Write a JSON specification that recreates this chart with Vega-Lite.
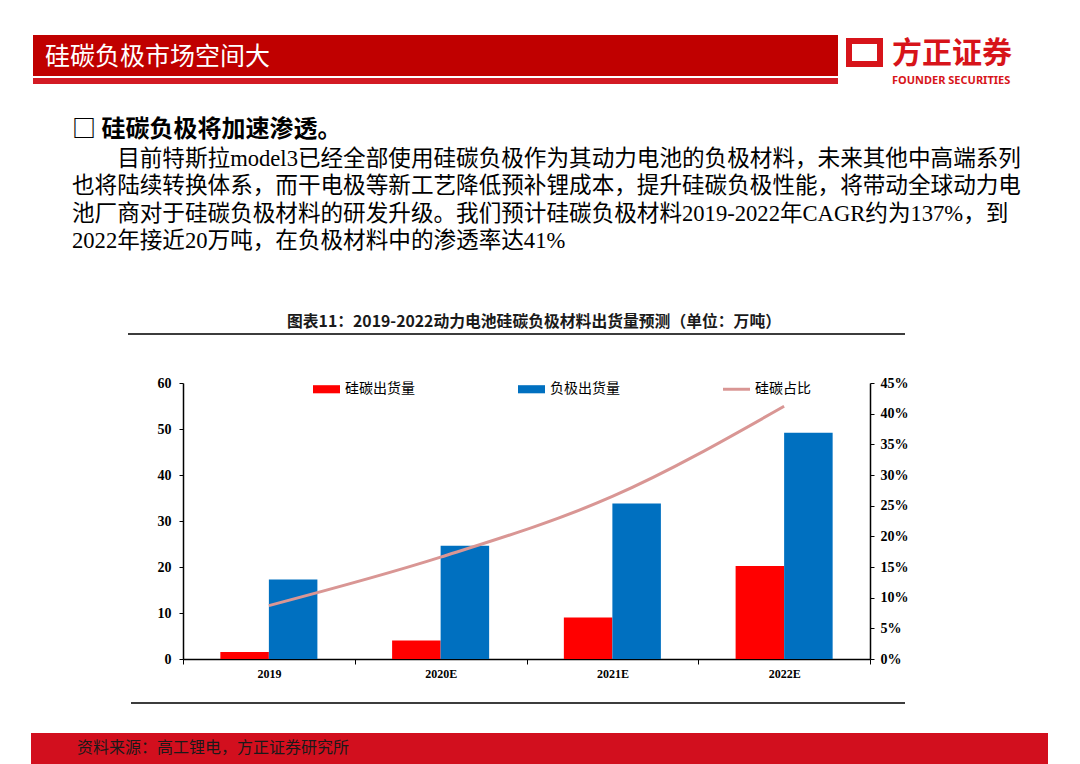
{
  "$schema": "https://vega.github.io/schema/vega-lite/v6.json",
  "padding": {"top": 35, "left": 0, "right": 0, "bottom": 0},
  "background": "#ffffff",
  "columns": 2,
  "bounds": "flush",
  "spacing": 0,
  "config": {"view": {"stroke": null}, "font": "Noto Sans CJK SC"},
  "datasets": {
    "shipments": [
      {"year": "2019", "series": "硅碳出货量", "value": 1.5},
      {"year": "2019", "series": "负极出货量", "value": 17.3},
      {"year": "2020E", "series": "硅碳出货量", "value": 4.0},
      {"year": "2020E", "series": "负极出货量", "value": 24.6},
      {"year": "2021E", "series": "硅碳出货量", "value": 9.0},
      {"year": "2021E", "series": "负极出货量", "value": 33.8},
      {"year": "2022E", "series": "硅碳出货量", "value": 20.2},
      {"year": "2022E", "series": "负极出货量", "value": 49.2}
    ],
    "share": [
      {"year": "2019", "ratio": 0.087},
      {"year": "2020E", "ratio": 0.166},
      {"year": "2021E", "ratio": 0.265},
      {"year": "2022E", "ratio": 0.412}
    ]
  },
  "concat": [
    {"width": 1, "height": 6, "data": {"values": []}, "mark": "point", "view": {"fill": "#ffffff", "stroke": null}},
    {"hconcat": [
      {"width": 32, "height": 6, "data": {"values": []}, "mark": "point"},
      {"width": 805, "height": 6, "data": {"values": []}, "mark": "point", "view": {"fill": "#c00000", "stroke": null}}
    ], "spacing": 0, "bounds": "flush"},

    {"width": 1, "height": 37, "data": {"values": []}, "mark": "point", "view": {"fill": "#ffffff", "stroke": null}},
    {"hconcat": [
      {"width": 32, "height": 35, "data": {"values": []}, "mark": "point"},
      {"width": 805, "height": 35, "data": {"values": []}, "mark": "point", "view": {"fill": "#c00000", "stroke": null},
       "title": {"text": "硅碳负极市场空间大", "anchor": "start", "frame": "group", "dx": 12, "offset": -29, "color": "#ffffff", "font": "Noto Sans CJK SC", "fontSize": 25, "fontWeight": "normal"}},
      {"width": 11, "height": 1, "data": {"values": []}, "mark": "point"},
      {"width": 31, "height": 23, "data": {"values": []}, "mark": "point", "view": {"fill": null, "stroke": "#d7141a", "strokeWidth": 6},
       "title": {"text": "方正证券", "subtitle": "FOUNDER SECURITIES", "anchor": "start", "frame": "group", "dx": 43, "offset": -45, "color": "#d7141a", "font": "Noto Sans CJK SC", "fontSize": 30, "fontWeight": "bold", "subtitleColor": "#d7141a", "subtitleFont": "Noto Sans", "subtitleFontSize": 11, "subtitleFontWeight": "bold", "subtitlePadding": 6}}
    ], "spacing": 0, "bounds": "flush"},

    {"width": 1, "height": 174, "data": {"values": []}, "mark": "point"},
    {"hconcat": [
      {"width": 32, "height": 6, "data": {"values": []}, "mark": "point"},
      {"width": 805, "height": 6, "data": {"values": []}, "mark": "point", "view": {"fill": "#d31a24", "stroke": null}}
    ], "spacing": 0, "bounds": "flush"},

    {"width": 1, "height": 81, "data": {"values": []}, "mark": "point"},
    {"hconcat": [
      {"width": 71, "height": 81, "data": {"values": []}, "mark": "point"},
      {"width": 960, "height": 81, "data": {"values": []}, "mark": "point",
       "title": {
         "text": "□ 硅碳负极将加速渗透。",
         "subtitle": [
           "\u200b\u3000\u3000目前特斯拉model3已经全部使用硅碳负极作为其动力电池的负极材料，未来其他中高端系列",
           "也将陆续转换体系，而干电极等新工艺降低预补锂成本，提升硅碳负极性能，将带动全球动力电",
           "池厂商对于硅碳负极材料的研发升级。我们预计硅碳负极材料2019-2022年CAGR约为137%，到",
           "2022年接近20万吨，在负极材料中的渗透率达41%"
         ],
         "anchor": "start", "frame": "group", "offset": -0.5,
         "color": "#000000", "font": "Noto Sans CJK SC", "fontSize": 24, "fontWeight": "bold",
         "subtitleColor": "#000000", "subtitleFont": "'Liberation Serif', 'Noto Sans CJK SC'", "subtitleFontSize": 22.6,
         "subtitleLineHeight": 27.3, "subtitlePadding": 6
       }}
    ], "spacing": 0, "bounds": "flush"},

    {"width": 1, "height": 50, "data": {"values": []}, "mark": "point"},
    {"hconcat": [
      {"width": 127, "height": 2, "data": {"values": []}, "mark": "point"},
      {"width": 777, "height": 2, "data": {"values": []}, "mark": "point", "view": {"fill": "#3c3c3c", "stroke": null},
       "title": {"text": "图表11：2019-2022动力电池硅碳负极材料出货量预测（单位：万吨）", "anchor": "start", "frame": "group", "dx": 159, "offset": 2, "color": "#1a1a1a", "font": "Noto Sans CJK SC", "fontSize": 15.8, "fontWeight": "bold"}}
    ], "spacing": 0, "bounds": "flush"},

    {"width": 1, "height": 319, "data": {"values": []}, "mark": "point"},
    {"hconcat": [
      {"width": 182, "height": 276, "data": {"values": []}, "mark": "point"},
      {
        "width": 687, "height": 276,
        "layer": [
          {
            "data": {"name": "shipments"},
            "mark": {"type": "bar"},
            "encoding": {
              "x": {"field": "year", "type": "nominal", "sort": null,
                    "scale": {"paddingInner": 0, "paddingOuter": 0},
                    "axis": {"title": null, "tickBand": "extent", "labelAngle": 0, "labelFont": "Liberation Serif", "labelFontWeight": "bold", "labelFontSize": 12, "labelColor": "#000000", "domainColor": "#000000", "domainWidth": 1.5, "tickColor": "#000000", "tickSize": 5, "labelPadding": 4}},
              "xOffset": {"field": "series", "type": "nominal", "sort": null,
                          "scale": {"domain": ["硅碳出货量", "负极出货量"], "paddingInner": 0, "paddingOuter": 0.77}},
              "y": {"field": "value", "type": "quantitative", "scale": {"domain": [0, 60]},
                    "axis": {"title": null, "grid": false, "values": [0, 10, 20, 30, 40, 50, 60], "labelFont": "Liberation Serif", "labelFontWeight": "bold", "labelFontSize": 14, "labelColor": "#000000", "domainColor": "#000000", "domainWidth": 1.5, "tickColor": "#000000", "tickSize": 4, "labelPadding": 8}},
              "color": {"field": "series", "type": "nominal",
                        "scale": {"domain": ["硅碳出货量", "负极出货量", "硅碳占比"], "range": ["#ff0000", "#0070c0", "#d99694"]},
                        "legend": {"orient": "none", "legendX": 313, "legendY": 340.5, "direction": "horizontal", "title": null, "padding": 0,
                                   "labelFont": "Noto Sans CJK SC", "labelFontSize": 14, "labelColor": "#000000", "labelOffset": 5,
                                   "columnPadding": 103, "symbolSize": 729, "symbolStrokeWidth": 0,
                                   "encode": {"symbols": {"update": {
                                     "shape": {"signal": "datum.value === '硅碳占比' ? 'M-1,-0.11H1V0.11H-1Z' : 'M-1,-0.3H1V0.3H-1Z'"},
                                     "fill": {"scale": "color", "field": "value"},
                                     "opacity": {"value": 1}}}}}}
            }
          },
          {
            "data": {"name": "share"},
            "mark": {"type": "line", "interpolate": "monotone", "strokeWidth": 3},
            "encoding": {
              "x": {"field": "year", "type": "nominal", "sort": null},
              "y": {"field": "ratio", "type": "quantitative", "scale": {"domain": [0, 0.45]},
                    "axis": {"orient": "right", "title": null, "grid": false, "values": [0, 0.05, 0.1, 0.15, 0.2, 0.25, 0.3, 0.35, 0.4, 0.45], "format": ".0%", "labelFont": "Liberation Serif", "labelFontWeight": "bold", "labelFontSize": 14, "labelColor": "#000000", "domainColor": "#000000", "domainWidth": 1.5, "tickColor": "#000000", "tickSize": 4, "labelPadding": 6}},
              "color": {"datum": "硅碳占比", "type": "nominal"}
            }
          }
        ],
        "resolve": {"scale": {"y": "independent"}}
      }
    ], "spacing": 0, "bounds": "flush"},

    {"width": 1, "height": 31, "data": {"values": []}, "mark": "point"},
    {"hconcat": [
      {"width": 130, "height": 2, "data": {"values": []}, "mark": "point"},
      {"width": 774, "height": 2, "data": {"values": []}, "mark": "point", "view": {"fill": "#3c3c3c", "stroke": null}}
    ], "spacing": 0, "bounds": "flush"},

    {"width": 1, "height": 31, "data": {"values": []}, "mark": "point"},
    {"hconcat": [
      {"width": 30, "height": 31, "data": {"values": []}, "mark": "point"},
      {"width": 1017, "height": 31, "data": {"values": []}, "mark": "point", "view": {"fill": "#d20f1e", "stroke": null},
       "title": {"text": "资料来源：高工锂电，方正证券研究所", "anchor": "start", "frame": "group", "dx": 46, "offset": -22.5, "color": "#1a1a1a", "font": "Noto Sans CJK SC", "fontSize": 16, "fontWeight": "normal"}}
    ], "spacing": 0, "bounds": "flush"}
  ]
}
